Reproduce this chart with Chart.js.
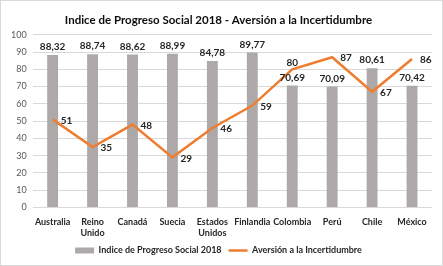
<!DOCTYPE html>
<html>
<head>
<meta charset="utf-8">
<script src="https://cdn.jsdelivr.net/npm/chart.js@4"></script>
<style>
    body { margin: 0; background: #fff; }
    #box { width: 443px; height: 266px; box-sizing: border-box; border: 1px solid #d9d9d9; }
</style>
</head>
<body>
<div id="box"><canvas id="ips_Chart" width="441" height="264"></canvas></div>
<script>
var paises = ['Australia', ['Reino', 'Unido'], 'Canadá', 'Suecia', ['Estados', 'Unidos'], 'Finlandia', 'Colombia', 'Perú', 'Chile', 'México'];
var indiceProgreso = [88.32, 88.74, 88.62, 88.99, 84.78, 89.77, 70.69, 70.09, 80.61, 70.42];
var aversion = [51, 35, 48, 29, 46, 59, 80, 87, 67, 86];
var yTicks = [0, 10, 20, 30, 40, 50, 60, 70, 80, 90, 100];

var fontFamily = 'Lato';
var ctx = document.getElementById('ips_Chart');

// etiquetas de datos: barras arriba, linea a la derecha (Colombia arriba)
const dataLabels = {
    id: 'dataLabels',
    afterDatasetsDraw(chart) {
        var c = chart.ctx;
        c.save();
        c.font = 'bold 10px ' + fontFamily;
        c.fillStyle = '#262626';
        chart.data.datasets.forEach(function (ds, i) {
            var meta = chart.getDatasetMeta(i);
            meta.data.forEach(function (el, j) {
                var v = ds.data[j];
                if (ds.type === 'bar') {
                    c.textAlign = 'center';
                    c.textBaseline = 'bottom';
                    c.fillText(v.toFixed(2).replace('.', ','), el.x, el.y - 3);
                } else if (j === 6) {
                    c.textAlign = 'center';
                    c.textBaseline = 'bottom';
                    c.fillText(String(v), el.x, el.y - 2);
                } else {
                    c.textAlign = 'left';
                    c.textBaseline = 'middle';
                    c.fillText(String(v), el.x + 8, el.y + 1);
                }
            });
        });
        c.restore();
    }
};

new Chart(ctx, {
    data: {
        labels: paises,
        datasets: [{
            type: 'line',
            label: 'Aversión a la Incertidumbre',
            data: aversion,
            borderColor: '#ED7D31',
            backgroundColor: '#ED7D31',
            borderWidth: 2.5,
            tension: 0,
            pointRadius: 0,
            pointStyle: 'line'
        }, {
            type: 'bar',
            label: 'Indice de Progreso Social 2018',
            data: indiceProgreso,
            backgroundColor: '#ADA9A9',
            pointStyle: 'rect',
            categoryPercentage: 0.8,
            barPercentage: 0.34
        }]
    },
    options: {
        responsive: false,
        animation: false,
        layout: { padding: { left: 4, right: 10, top: 0, bottom: 0 } },
        scales: {
            x: {
                grid: { display: false },
                border: { display: false },
                ticks: {
                    color: '#262626',
                    font: { family: fontFamily, size: 9, weight: 'bold' },
                    maxRotation: 0,
                    autoSkip: false,
                    padding: 1
                }
            },
            y: {
                min: 0,
                max: 100,
                afterBuildTicks: function (axis) {
                    axis.ticks = yTicks.map(function (v) { return { value: v }; });
                },
                grid: { color: '#d9d9d9', drawTicks: false },
                border: { display: false },
                ticks: {
                    color: '#595959',
                    font: { family: fontFamily, size: 9 },
                    padding: 6
                }
            }
        },
        plugins: {
            title: {
                display: true,
                text: 'Indice de Progreso Social 2018 - Aversión a la Incertidumbre',
                color: '#0d0d0d',
                font: { family: fontFamily, size: 11.5, weight: 'bold' },
                padding: { top: 12, bottom: 8 }
            },
            legend: {
                position: 'bottom',
                reverse: true,
                labels: {
                    usePointStyle: true,
                    pointStyleWidth: 19,
                    boxHeight: 6,
                    color: '#262626',
                    font: { family: fontFamily, size: 9, weight: 'bold' },
                    padding: 7
                }
            },
            tooltip: { enabled: false }
        }
    },
    plugins: [dataLabels]
});
</script>
</body>
</html>
